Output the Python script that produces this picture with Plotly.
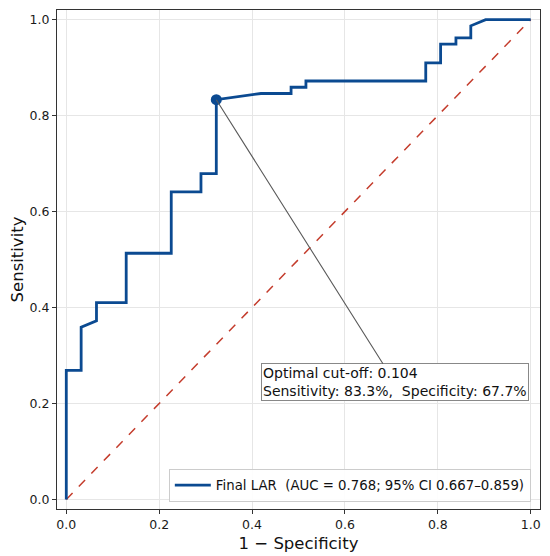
import plotly.graph_objects as go

# ROC points (1 - specificity, sensitivity)
fpr = [0.0, 0.0, 0.032, 0.032, 0.065, 0.065, 0.129, 0.129, 0.226, 0.226,
       0.290, 0.290, 0.323, 0.323, 0.419, 0.484, 0.484, 0.516, 0.516,
       0.774, 0.774, 0.806, 0.806, 0.839, 0.839, 0.871, 0.871, 0.903, 1.0]
tpr = [0.0, 0.269, 0.269, 0.359, 0.372, 0.410, 0.410, 0.513, 0.513, 0.641,
       0.641, 0.679, 0.679, 0.833, 0.846, 0.846, 0.859, 0.859, 0.872,
       0.872, 0.910, 0.910, 0.949, 0.949, 0.962, 0.962, 0.987, 1.0, 1.0]

chance = [0.0, 1.0]

opt_fpr = 0.323
opt_tpr = 0.833
cutoff = 0.104
label_pos = (0.707, 0.244)

auc_label = "Final LAR&nbsp;&nbsp;(AUC = 0.768; 95% CI 0.667–0.859)"
ticks = [0.0, 0.2, 0.4, 0.6, 0.8, 1.0]

blue = "#0b4a91"
red = "#c43c2c"
font = "DejaVu Sans"

fig = go.Figure()

fig.add_trace(go.Scatter(x=chance, y=chance, mode="lines",
                         line=dict(color=red, width=1.5, dash="dash"),
                         showlegend=False, hoverinfo="skip"))

fig.add_trace(go.Scatter(x=fpr, y=tpr, mode="lines", name=auc_label,
                         line=dict(color=blue, width=2.8)))

fig.add_trace(go.Scatter(x=[opt_fpr], y=[opt_tpr], mode="markers",
                         marker=dict(color=blue, size=11),
                         showlegend=False))

fig.add_annotation(
    x=opt_fpr, y=opt_tpr, xref="x", yref="y",
    ax=label_pos[0], ay=label_pos[1], axref="x", ayref="y",
    text=(f"Optimal cut-off: {cutoff:.3f}<br>"
          f"Sensitivity: {opt_tpr*100:.1f}%,&nbsp;&nbsp;"
          f"Specificity: {(1-opt_fpr)*100:.1f}%"),
    align="left", showarrow=True, arrowhead=0, arrowwidth=1.1,
    arrowcolor="#5a5a5a", bgcolor="white", bordercolor="#888888",
    borderwidth=1, borderpad=1, font=dict(family=font, size=14, color="#111"),
)

axis_style = dict(
    range=[-0.02, 1.02], tickvals=ticks, tickformat=".1f",
    showgrid=True, gridcolor="#e6e6e6", gridwidth=1, zeroline=False,
    showline=True, linecolor="#333333", linewidth=1, mirror=True,
    ticks="outside", ticklen=4, tickcolor="#333333",
    tickfont=dict(family=font, size=12.5, color="#1a1a1a"),
)

fig.update_xaxes(**axis_style, title=dict(text="1 − Specificity", standoff=6,
                 font=dict(family=font, size=16.5, color="#111")))
fig.update_yaxes(**axis_style, title=dict(text="Sensitivity", standoff=7,
                 font=dict(family=font, size=16.5, color="#111")))

# the page body adds an 8px offset, so the figure is sized to leave for it
fig.update_layout(
    width=542, height=548,
    margin=dict(l=49, r=10, t=2, b=47),
    plot_bgcolor="white", paper_bgcolor="white",
    legend=dict(x=0.981, y=0.014, xanchor="right", yanchor="bottom",
                bgcolor="rgba(255,255,255,0.9)", bordercolor="#cccccc",
                borderwidth=1, font=dict(family=font, size=13.3, color="#111"),
                itemwidth=36, tracegroupgap=0),
)

fig.write_html("out.html")
